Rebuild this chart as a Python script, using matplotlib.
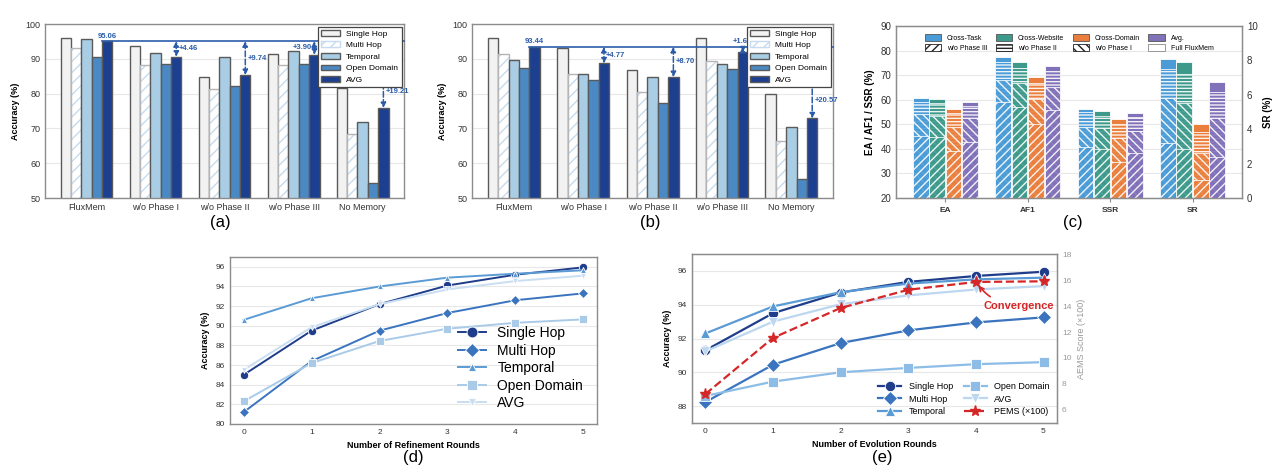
import numpy as np
import matplotlib.pyplot as plt
from matplotlib.patches import Patch
from matplotlib.lines import Line2D

plt.rcParams['font.family'] = ['Liberation Sans', 'DejaVu Sans']
plt.rcParams['hatch.linewidth'] = 1.0

# ---------------- data ----------------
# (a) / (b) ablation bars
groups = ['FluxMem', 'w/o Phase I', 'w/o Phase II', 'w/o Phase III', 'No Memory']
series = ['Single Hop', 'Multi Hop', 'Temporal', 'Open Domain', 'AVG']

a_single = [95.9, 93.7, 84.9, 91.3, 81.7]
a_multi = [93.2, 88.2, 81.2, 88.2, 68.3]
a_temporal = [95.6, 91.8, 90.5, 92.3, 71.9]
a_open = [90.5, 88.4, 82.3, 88.6, 54.2]
a_avg = [95.06, 90.60, 85.32, 91.16, 75.85]

b_single = [96.1, 93.0, 86.8, 96.0, 80.0]
b_multi = [91.5, 85.5, 80.5, 89.3, 66.5]
b_temporal = [89.6, 85.5, 84.8, 88.4, 70.5]
b_open = [87.4, 84.0, 77.3, 87.2, 55.5]
b_avg = [93.44, 88.67, 84.74, 91.84, 72.87]

# (c) overlapped bars, rows = settings, cols = metrics (SR on its own 0-10 scale)
metrics = ['EA', 'AF1', 'SSR', 'SR']
settings = ['Cross-Task', 'Cross-Website', 'Cross-Domain', 'Avg.']
phases = ['w/o Phase III', 'w/o Phase II', 'w/o Phase I', 'Full FluxMem']
c_full = [[60.6, 77.5, 56.4, 8.08], [60.4, 75.5, 55.4, 7.88],
          [56.2, 69.3, 52.1, 4.31], [58.9, 73.8, 54.4, 6.76]]
c_wo2 = [[59.0, 75.5, 54.8, 7.50], [58.5, 73.0, 53.5, 7.20],
         [54.4, 66.6, 50.1, 3.86], [57.4, 71.8, 52.8, 6.18]]
c_wo1 = [[54.1, 68.0, 49.0, 5.80], [53.5, 66.6, 48.3, 5.50],
         [48.7, 60.1, 44.5, 2.60], [52.4, 65.0, 47.2, 4.63]]
c_wo3 = [[45.2, 59.2, 40.8, 3.20], [44.9, 57.1, 39.9, 2.83],
         [39.2, 50.3, 34.7, 1.04], [42.9, 55.8, 38.5, 2.40]]

# (d) refinement rounds
rounds = [0, 1, 2, 3, 4, 5]
d_single = [85.0, 89.5, 92.2, 94.1, 95.2, 95.95]
d_multi = [81.2, 86.4, 89.5, 91.3, 92.6, 93.3]
d_temporal = [90.6, 92.8, 94.0, 94.9, 95.3, 95.65]
d_open = [82.3, 86.2, 88.45, 89.7, 90.3, 90.65]
d_avg = [85.5, 89.85, 92.2, 93.7, 94.55, 95.1]

# (e) evolution rounds
e_single = [91.3, 93.5, 94.72, 95.35, 95.7, 95.95]
e_multi = [88.24, 90.45, 91.73, 92.48, 92.95, 93.25]
e_temporal = [92.3, 93.9, 94.74, 95.25, 95.5, 95.6]
e_open = [88.6, 89.45, 90.0, 90.26, 90.48, 90.6]
e_avg = [91.24, 93.0, 94.03, 94.55, 94.9, 95.1]
e_pems = [7.23, 11.55, 13.85, 15.25, 15.85, 15.9]

# ---------------- styles ----------------
bar_colors = ['#f2f2f2', 'white', '#a9cde4', '#4b89c4', '#1c3f8f']
line_colors = ['#1f3d8a', '#3a74bf', '#5b9bd5', '#a9cbe8', '#c9def2']
c_colors = ['#4a9bd6', '#3d9a8b', '#ea7f3d', '#8171b9']
blue_txt = '#2a5caa'
spine_c = '#8c8c8c'


def style_axes(ax):
    for s in ax.spines.values():
        s.set_color(spine_c)
        s.set_linewidth(1.0)
    ax.yaxis.grid(True, color='#e8e8e8', lw=0.8)
    ax.set_axisbelow(True)
    ax.tick_params(length=0, labelsize=6, colors='#333333')


def ablation(ax, single, multi, temporal, opend, avg):
    x = np.arange(len(groups))
    w = 0.15
    vals = [single, multi, temporal, opend, avg]
    for i, v in enumerate(vals):
        xi = x + (i - 2) * w
        if i == 1:
            ax.bar(xi, v, w, facecolor='white', edgecolor='#c6dbef', hatch='///', lw=0, zorder=2)
            ax.bar(xi, v, w, fill=False, edgecolor='#b5b5b5', lw=1.0, zorder=2)
        else:
            ax.bar(xi, v, w, color=bar_colors[i], edgecolor='#5a5a5a', lw=1.0, zorder=2)
    ax.set_xlim(-0.6, 4.6)
    ax.set_ylim(50, 100)
    ax.set_xticks(x, groups)
    ax.set_ylabel('Accuracy (%)', fontsize=6.5, fontweight='bold')
    style_axes(ax)
    ax.tick_params(labelsize=6.5)

    ref = avg[0]
    xa = x + 2 * w
    ax.plot([xa[0] - w / 2, 4.6], [ref, ref], color=blue_txt, lw=1.2, zorder=4, clip_on=False)
    ax.text(xa[0], ref + 0.4, f'{ref:.2f}', color=blue_txt, fontsize=5.5,
            fontweight='bold', ha='center', va='bottom', zorder=6)
    for k in range(1, len(groups)):
        diff = ref - avg[k]
        ax.annotate('', xy=(xa[k], avg[k]), xytext=(xa[k], ref),
                    arrowprops=dict(arrowstyle='<|-|>,head_length=0.3,head_width=0.15',
                                    color=blue_txt, lw=1.1, ls='--',
                                    shrinkA=0, shrinkB=0), zorder=5)
        lab = f'+{diff:.2f}'
        if diff < 2:
            ax.text(xa[k], ref + 0.5, lab, color=blue_txt, fontsize=5.5,
                    fontweight='bold', ha='center', va='bottom', zorder=6)
        elif diff < 4:
            ax.text(xa[k] - 0.03, (ref + avg[k]) / 2, lab, color=blue_txt, fontsize=5.5,
                    fontweight='bold', ha='right', va='center', zorder=6)
        elif k == len(groups) - 1:
            ax.text(xa[k] + 0.03, avg[k] + 0.25 * diff, lab, color=blue_txt, fontsize=5.5,
                    fontweight='bold', ha='left', va='center', zorder=6)
        else:
            ax.text(xa[k] + 0.03, (ref + avg[k]) / 2, lab, color=blue_txt, fontsize=5.5,
                    fontweight='bold', ha='left', va='center', zorder=6)

    handles = [Patch(facecolor=bar_colors[0], edgecolor='#5a5a5a'),
               Patch(facecolor='white', edgecolor='#c6dbef', hatch='///'),
               Patch(facecolor=bar_colors[2], edgecolor='#5a5a5a'),
               Patch(facecolor=bar_colors[3], edgecolor='#5a5a5a'),
               Patch(facecolor=bar_colors[4], edgecolor='#5a5a5a')]
    leg = ax.legend(handles, series, loc='upper right', fontsize=6, fancybox=False,
                    edgecolor='#444444', framealpha=1, borderaxespad=0.3,
                    labelspacing=0.45, handlelength=2.2)
    leg.get_frame().set_linewidth(0.9)
    leg.set_zorder(10)


fig = plt.figure(figsize=(12.8, 4.69), dpi=100)

# (a)
ax_a = fig.add_axes([0.0352, 0.5778, 0.2805, 0.371])
ablation(ax_a, a_single, a_multi, a_temporal, a_open, a_avg)

# (b)
ax_b = fig.add_axes([0.3688, 0.5778, 0.282, 0.371])
ablation(ax_b, b_single, b_multi, b_temporal, b_open, b_avg)

# (c)
ax_c = fig.add_axes([0.70, 0.5778, 0.2703, 0.3668])
xc = np.arange(len(metrics))
wc = 0.19
layers = [(c_full, None), (c_wo2, '-----'), (c_wo1, '\\\\\\\\'), (c_wo3, '////')]
for j in range(len(settings)):
    xj = xc + (j - 1.5) * 0.2
    for vals, hatch in layers:
        v = np.array(vals[j], dtype=float)
        v[3] = 20 + v[3] * 7  # SR plotted on the right-hand scale
        if hatch is None:
            ax_c.bar(xj, v, wc, color=c_colors[j], edgecolor='white', lw=0.6, zorder=2)
        else:
            ax_c.bar(xj, v, wc, color=c_colors[j], edgecolor='white', hatch=hatch,
                     lw=0.6, alpha=0.9, zorder=2)
ax_c.set_xlim(-0.6, 3.6)
ax_c.set_ylim(20, 90)
ax_c.set_yticks(range(20, 91, 10))
ax_c.set_xticks(xc, metrics, fontweight='bold', fontsize=7.5)
ax_c.set_ylabel('EA / AF1 / SSR (%)', fontsize=7, fontweight='bold')
style_axes(ax_c)
ax_c.tick_params(axis='y', labelsize=7)
ax_c.tick_params(axis='x', length=3, color=spine_c)
ax_c2 = ax_c.twinx()
ax_c2.set_ylim(0, 10)
ax_c2.set_yticks(range(0, 11, 2))
ax_c2.set_ylabel('SR (%)', fontsize=7, fontweight='bold')
ax_c2.tick_params(length=0, labelsize=7, colors='#333333')
for s in ax_c2.spines.values():
    s.set_color(spine_c)
color_h = [Patch(facecolor=c, edgecolor='#555555', lw=0.6) for c in c_colors]
phase_h = [Patch(facecolor='white', edgecolor='#222222', hatch='////', lw=0.6),
           Patch(facecolor='white', edgecolor='#222222', hatch='-----', lw=0.6),
           Patch(facecolor='white', edgecolor='#222222', hatch='\\\\\\\\', lw=0.6),
           Patch(facecolor='white', edgecolor='#888888', lw=0.6)]
# legend fills column-wise, so interleave to get colours on row 1 and phases on row 2
c_handles, c_labels = [], []
for k in range(4):
    c_handles += [color_h[k], phase_h[k]]
    c_labels += [settings[k], phases[k]]
ax_c2.legend(c_handles, c_labels, ncol=4, loc='upper center', bbox_to_anchor=(0.5, 0.99),
             fontsize=5, frameon=False, columnspacing=1.2, handlelength=2.4,
             handleheight=1.2, labelspacing=0.3)

# (d)
ax_d = fig.add_axes([0.1797, 0.096, 0.2867, 0.356])
d_data = [d_single, d_multi, d_temporal, d_open, d_avg]
d_marks = ['o', 'D', '^', 's', 'v']
d_ms = [6, 5.5, 4.5, 5.5, 4.5]
for vals, name, c, m, ms in zip(d_data, series, line_colors, d_marks, d_ms):
    ax_d.plot(rounds, vals, color=c, marker=m, ms=ms, lw=1.4, mec='white', mew=0.6, label=name)
ax_d.set_xlim(-0.2, 5.2)
ax_d.set_ylim(80, 97)
ax_d.set_yticks(range(80, 97, 2))
ax_d.set_xticks(rounds)
ax_d.set_xlabel('Number of Refinement Rounds', fontsize=6.5, fontweight='bold')
ax_d.set_ylabel('Accuracy (%)', fontsize=6.5, fontweight='bold')
style_axes(ax_d)
ax_d.legend(loc='lower right', fontsize=10, frameon=False, labelspacing=0.25,
            handlelength=2.0, borderaxespad=0.6, markerscale=1.3)

# (e)
ax_e = fig.add_axes([0.5406, 0.0981, 0.2852, 0.3603])
e_data = [e_single, e_multi, e_temporal, e_open, e_avg]
e_colors = ['#1f3d8a', '#3a74bf', '#5b9bd5', '#8dbde6', '#bcd7ef']
e_ms = [7.5, 7.5, 7, 7, 7]
for vals, name, c, m, ms in zip(e_data, series, e_colors, d_marks, e_ms):
    ax_e.plot(rounds, vals, color=c, marker=m, ms=ms, lw=1.6, mec='white', mew=0.6, label=name)
ax_e.set_xlim(-0.2, 5.2)
ax_e.set_ylim(87, 97)
ax_e.set_yticks(range(88, 97, 2))
ax_e.set_xticks(rounds)
ax_e.set_xlabel('Number of Evolution Rounds', fontsize=6.5, fontweight='bold')
ax_e.set_ylabel('Accuracy (%)', fontsize=6.5, fontweight='bold')
style_axes(ax_e)
ax_e2 = ax_e.twinx()
ax_e2.plot(rounds, e_pems, color='#d62728', ls='--', lw=1.6, marker='*', ms=8,
           mec='#d62728', label='PEMS (×100)')
ax_e2.set_ylim(5, 18)
ax_e2.set_yticks(range(6, 19, 2))
ax_e2.set_ylabel('AEMS Score (×100)', fontsize=6.5, color='#999999')
ax_e2.tick_params(length=0, labelsize=6, colors='#999999')
for s in ax_e2.spines.values():
    s.set_color(spine_c)
ax_e2.annotate('Convergence', xy=(4, e_pems[4]), xytext=(4.64, 14.0),
               color='#d62728', fontsize=8, fontweight='bold', ha='center', va='center',
               arrowprops=dict(arrowstyle='->', color='#d62728', lw=1.2,
                               connectionstyle='arc3,rad=-0.25', shrinkA=2, shrinkB=3))
h1, l1 = ax_e.get_legend_handles_labels()
h2, l2 = ax_e2.get_legend_handles_labels()
ax_e2.legend(h1 + h2, l1 + l2, ncol=2, loc='lower right', fontsize=6.5, frameon=False,
             columnspacing=1.2, handlelength=2.6, labelspacing=0.35, borderaxespad=0.4)

# panel labels
for lab, px, py in [('(a)', 0.172, 0.526), ('(b)', 0.508, 0.526), ('(c)', 0.838, 0.526),
                    ('(d)', 0.323, 0.024), ('(e)', 0.689, 0.024)]:
    fig.text(px, py, lab, fontsize=12, ha='center', va='center')

fig.savefig('out.png', dpi=100)
